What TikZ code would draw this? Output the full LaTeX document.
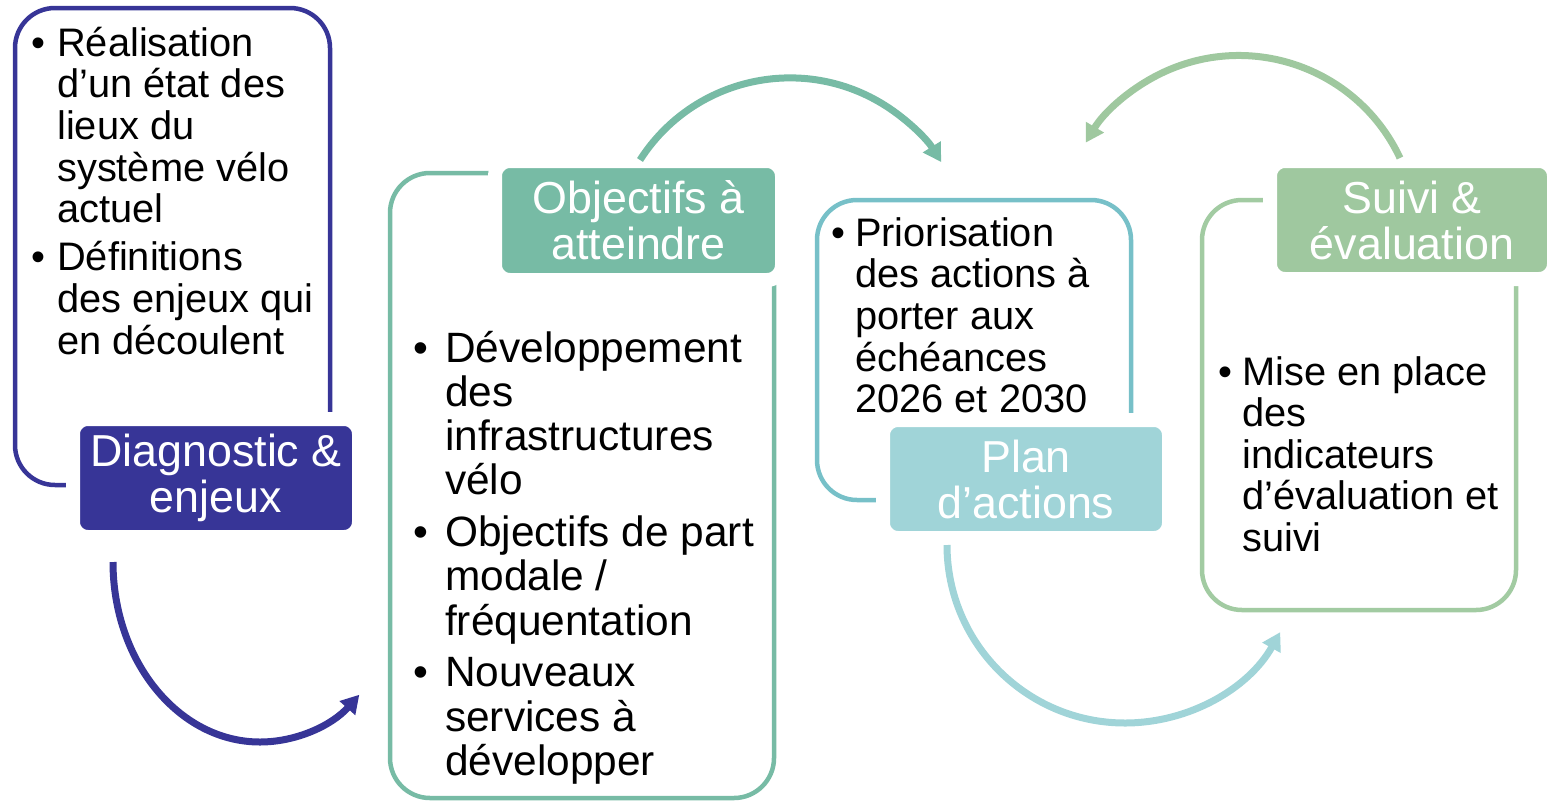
\documentclass[tikz,border=0pt]{standalone}
\usepackage{fontspec}
\setmainfont{Liberation Sans}
\usetikzlibrary{arrows.meta}
\definecolor{cnavy}{RGB}{55,53,151}
\definecolor{cteal}{RGB}{119,187,165}
\definecolor{cblue}{RGB}{119,192,200}
\definecolor{cblueL}{RGB}{160,212,216}
\definecolor{cgreenB}{RGB}{162,203,162}
\definecolor{cgreen}{RGB}{159,200,159}
\newcommand{\bl}[1]{\makebox[#1][l]{\textbullet}}
\begin{document}
\begin{tikzpicture}[x=1pt,y=-1pt,
  frame/.style={draw, line width=4.5pt, rounded corners=40pt, inner sep=0pt},
  tag/.style={draw=white, line width=14pt, rounded corners=15pt, text=white, align=center,
    font=\fontsize{44.8}{46}\selectfont, inner sep=0pt},
  arr/.style={line width=7pt, -{Triangle[length=18pt,width=20pt]}},
  txt/.style={anchor=base west, inner sep=0pt, text=black, align=left},
  smalltxt/.style={txt, font=\fontsize{39.8}{41.5}\selectfont},
  bigtxt/.style={txt, font=\fontsize{42.4}{44.2}\selectfont}]

\useasboundingbox (0,0) rectangle (1547,801);

% frames
\node[frame, draw=cnavy, minimum width=315pt, minimum height=477pt] (b1) at (172.5,246.5) {};
\node[frame, draw=cteal, minimum width=384pt, minimum height=625pt] (b2) at (582,485.5) {};
\node[frame, draw=cblue, minimum width=314pt, minimum height=300pt] (b3) at (974,350) {};
\node[frame, draw=cgreenB, minimum width=314pt, minimum height=410pt] (b4) at (1359,405) {};

% tags
\node[tag, fill=cnavy, minimum width=286pt, minimum height=118pt] (l1) at (216,478) {Diagnostic \&\\enjeux};
\node[tag, fill=cteal, minimum width=287pt, minimum height=119pt] (l2) at (638.5,220.5) {Objectifs à\\atteindre};
\node[tag, fill=cblueL, minimum width=286pt, minimum height=118pt] (l3) at (1026,479) {Plan\\d’actions};
\node[tag, fill=cgreen, minimum width=284pt, minimum height=118pt] (l4) at (1412,220) {Suivi \&\\évaluation};

% texts
\node[smalltxt] (t1) at (31,56) {\begin{tabular}[t]{@{}l@{}l@{}}
\bl{26pt} & Réalisation\\
 & d’un état des\\
 & lieux du\\
 & système vélo\\
 & actuel\\[6.5pt]
\bl{26pt} & Définitions\\
 & des enjeux qui\\
 & en découlent
\end{tabular}};

\node[bigtxt] (t2) at (413,362) {\begin{tabular}[t]{@{}l@{}l@{}}
\bl{32pt} & Développement\\
 & des\\
 & infrastructures\\
 & vélo\\[7.5pt]
\bl{32pt} & Objectifs de part\\
 & modale /\\
 & fréquentation\\[7.5pt]
\bl{32pt} & Nouveaux\\
 & services à\\
 & développer
\end{tabular}};

\node[smalltxt] (t3) at (831,246) {\begin{tabular}[t]{@{}l@{}l@{}}
\bl{24pt} & Priorisation\\
 & des actions à\\
 & porter aux\\
 & échéances\\
 & 2026 et 2030
\end{tabular}};

\node[smalltxt] (t4) at (1218,385) {\begin{tabular}[t]{@{}l@{}l@{}}
\bl{24pt} & Mise en place\\
 & des\\
 & indicateurs\\
 & d’évaluation et\\
 & suivi
\end{tabular}};

% arrows
\coordinate (a1s) at (113,562);
\coordinate (a2s) at (640,160);
\coordinate (a3s) at (947,545);
\coordinate (a4s) at (1400,158);
\draw[arr, cnavy] (a1s) arc[start angle=180, end angle=47.5, x radius=147, y radius=180];
\draw[arr, cteal] (a2s) arc[start angle=-147.4, end angle=-31.8, radius=178];
\draw[arr, cblueL] (a3s) arc[start angle=180, end angle=29.3, radius=178];
\draw[arr, cgreen] (a4s) arc[start angle=-25.1, end angle=-149.3, radius=178];
\end{tikzpicture}
\end{document}
